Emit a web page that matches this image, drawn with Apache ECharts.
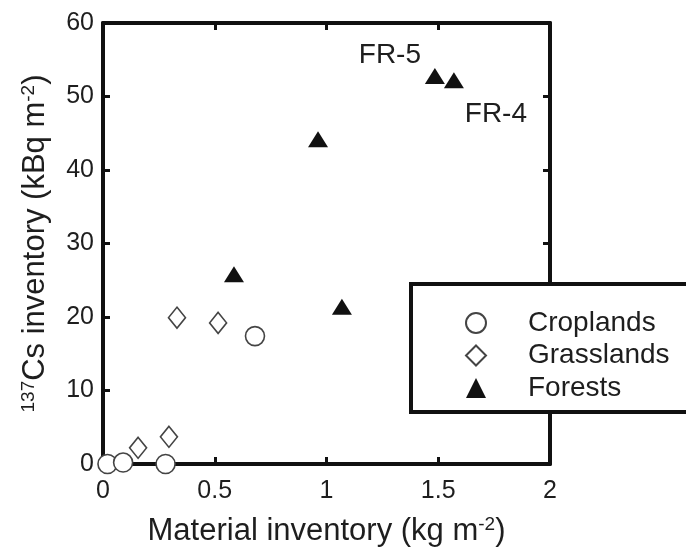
<!DOCTYPE html>
<html>
<head>
<meta charset="utf-8">
<script src="https://cdn.jsdelivr.net/npm/echarts@6/dist/echarts.min.js"></script>
<style>html,body{margin:0;padding:0;background:#fff}#c{width:686px;height:548px}</style>
</head>
<body>
<div id="c"></div>
<script>
const xTicks = [0, 0.5, 1, 1.5, 2];
const yTicks = [0, 10, 20, 30, 40, 50, 60];
const croplands = [[0.02, 0], [0.09, 0.2], [0.28, 0], [0.68, 17.4]];
const grasslands = [[0.157, 2.2], [0.295, 3.7], [0.331, 19.9], [0.515, 19.2]];
const forests = [[0.586, 25.8], [0.962, 44.2], [1.069, 21.4], [1.485, 52.8], [1.57, 52.2]];
const forestLabels = [null, null, null, 'FR-5', 'FR-4'];
const labelOffsets = [null, null, null, [-45, -21], [42, 34]];

const FONT = '"Liberation Sans", Arial, Helvetica, sans-serif';
const TXT = '#1e1e1e';
const LINE = '#111';

const chart = echarts.init(document.getElementById('c'));

const axisCommon = {
  axisLine: { show: true, onZero: false, lineStyle: { color: LINE, width: 4 } },
  axisTick: { show: true, inside: true, length: 7, lineStyle: { color: LINE, width: 3 } },
  splitLine: { show: false }
};

const forestData = forests.map((p, i) => {
  const d = { value: p };
  if (forestLabels[i]) {
    d.label = {
      show: true, formatter: forestLabels[i], position: 'inside',
      offset: labelOffsets[i], color: TXT, fontSize: 28, fontFamily: FONT
    };
  }
  return d;
});

const nameRich = {
  b: { fontSize: 31, fontFamily: FONT, color: TXT, lineHeight: 33 },
  sup: { fontSize: 19, fontFamily: FONT, color: TXT, verticalAlign: 'top', lineHeight: 33, padding: [0, 0, 12, 0] }
};

chart.setOption({
  animation: false,
  backgroundColor: '#fff',
  grid: { left: 103, right: 136, top: 23, bottom: 84, containLabel: false, outerBoundsMode: 'none' },
  xAxis: [
    Object.assign({}, axisCommon, {
      type: 'value', min: 0, max: 2, interval: 0.5, position: 'bottom',
      axisLabel: { color: TXT, fontSize: 25, fontFamily: FONT, margin: 15,
        formatter: v => String(xTicks.find(t => Math.abs(t - v) < 1e-9) ?? v) },
      name: '{b|Material inventory (kg m}{sup|-2}{b|)}',
      nameLocation: 'middle', nameGap: 51,
      nameTextStyle: { rich: nameRich }
    }),
    Object.assign({}, axisCommon, {
      type: 'value', min: 0, max: 2, interval: 0.5, position: 'top',
      axisLabel: { show: false }
    })
  ],
  yAxis: [
    Object.assign({}, axisCommon, {
      type: 'value', min: 0, max: 60, interval: 10, position: 'left',
      axisLabel: { color: TXT, fontSize: 25, fontFamily: FONT, margin: 9,
        formatter: v => String(yTicks.find(t => t === v) ?? v) },
      name: '{sup|137}{b|Cs inventory (kBq m}{sup|-2}{b|)}',
      nameLocation: 'middle', nameGap: 51,
      nameTextStyle: { rich: nameRich }
    }),
    Object.assign({}, axisCommon, {
      type: 'value', min: 0, max: 60, interval: 10, position: 'right',
      axisLabel: { show: false }
    })
  ],
  legend: {
    orient: 'vertical', left: 460, top: 304, z: 60,
    itemWidth: 20, itemHeight: 20, itemGap: 4.5,
    data: ['Croplands', 'Grasslands', 'Forests'],
    textStyle: { color: TXT, fontSize: 28, fontFamily: FONT, padding: [0, 0, 0, 37] }
  },
  graphic: [{
    type: 'rect', z: 50,
    shape: { x: 411, y: 284, width: 320, height: 128 },
    style: { fill: '#fff', stroke: LINE, lineWidth: 4 }
  }],
  series: [
    {
      name: 'Croplands', type: 'scatter', data: croplands, symbol: 'circle', symbolSize: 19,
      itemStyle: { color: '#fff', borderColor: '#444', borderWidth: 1.6, opacity: 1 }, z: 5
    },
    {
      name: 'Grasslands', type: 'scatter', data: grasslands, symbol: 'diamond', symbolSize: [17, 21],
      itemStyle: { color: '#fff', borderColor: '#444', borderWidth: 1.6, opacity: 1 }, z: 4
    },
    {
      name: 'Forests', type: 'scatter', data: forestData, symbol: 'triangle', symbolSize: [20, 16],
      itemStyle: { color: '#111', opacity: 1 }, z: 4
    }
  ]
});
</script>
</body>
</html>
